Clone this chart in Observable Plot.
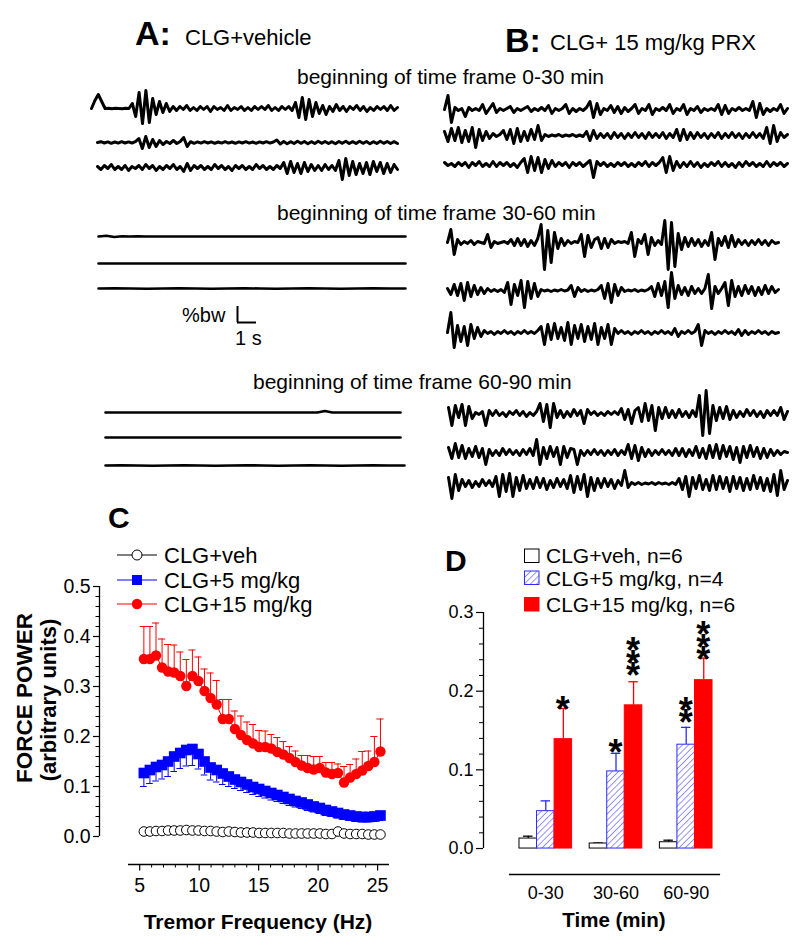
<!DOCTYPE html>
<html><head><meta charset="utf-8">
<script src="https://cdn.jsdelivr.net/npm/d3@7"></script>
<script src="https://cdn.jsdelivr.net/npm/@observablehq/plot@0.6"></script>
<style>
html,body{margin:0;padding:0;background:#fff;}
#root{position:relative;width:800px;height:947px;overflow:hidden;background:#fff;font-family:"Liberation Sans",Arial,Helvetica,sans-serif;}
</style></head><body><div id="root"></div>
<script>
// ---------------- DATA ----------------
// Panel A/B force traces (amplitude, arbitrary px-like units), one array per recording
const traceA0_1 = [0,8,14,7,0,0.3,-0.3,0.3,0,-0.3,0.3,0,5,-8,16,-15,18,-14,10,-6,7,-4,5,-3,2,-2,2,-1,3,-2,1,-2,2,-1,2,-3,2,-1,1,-2,3,-2,1,-1,2,-2,1,-2,2,-1,2,-1,3,-2,1,-2,2,-1,2,-2,6,-9,11,-11,9,-8,6,-5,3,-6,2,-3,4,-2,2,-3,2,-1,3,-2,2,-3,1,-2,2,-1,2,-2,3,-2,1];
const traceA0_2 = [0,0.8,-0.5,0.6,-0.8,0.5,-0.6,0.8,-0.5,0.6,-0.5,0.8,4,-6,6,-5,3,-4,2,-2,1,-1,2,-1,1,5,-4,0.8,-0.8,0.6,-0.6,0.8,-0.5,0.6,-0.8,0.5,-0.6,0.8,-0.6,0.5,-0.8,0.6,-0.5,0.8,-0.6,0.5,-0.8,0.6,-0.5,0.8,-0.6,0.5,2.5,-1.5,1,-1.2,0.8,-1,1.2,-0.8,1,-1.2,0.8,-1,1.2,-0.8,1,-1,0.8,-1.2,1,-0.8,1.2,-1,0.8,-1,1.2,-0.8,1,-1.2,0.8,-1,1.2,-0.8,1,-1,0.8,-1];
const traceA0_3 = [1,-2,2,-1,3,-2,1,-2,2,-3,1,-1,2,-2,3,-1,2,-3,1,-2,2,-1,3,-2,1,-4,4,-3,2,-1,2,-2,1,-2,3,-1,2,-2,1,-3,2,-1,2,-2,1,-2,3,-1,2,-2,1,-2,2,-1,5,-6,6,-5,4,-6,5,-4,3,-3,2,-3,3,-2,2,-3,7,-12,9,-8,6,-7,4,-6,5,-7,6,-4,5,-6,4,-5,3,-2];
const traceB0_1 = [0,14,-13,2,-1,1,-7,2,-1,1,-1,5,-4,1,6,-3,1,-1,1,3,-3,1,-1,1,3,-2,1,-1,2,-1,4,-4,1,-1,1,5,-4,1,-2,1,-1,2,8,-8,6,-5,1,-1,4,-3,3,-4,2,-2,1,5,-4,1,-1,5,-5,1,-1,2,-1,5,-4,1,-1,5,-5,1,-1,3,-3,1,-1,1,-1,5,-5,4,-4,1,-1,2,-1,1,-1,8,-8,6,-5,1,-2,1,-1,5,-4,1];
const traceB0_2 = [4,-6,7,-5,8,-7,5,-6,8,-12,6,-5,4,-3,2,-1,1,5,-4,6,-8,7,-6,4,-5,6,-4,10,-5,1,-1,0.5,-0.5,1,-1,0.5,-0.5,1,-1,0.5,-1,4,-5,5,-3,2,-2,2,-3,3,-2,2,-3,2,-2,3,-2,2,-3,3,-2,2,-2,3,-3,2,-2,6,-5,6,-4,3,-3,3,-2,2,-3,2,-2,3,-3,2,-2,3,-2,2,-3,2,-2,3,-2,2,-3,8,-8,10,-6,3,-2,1];
const traceB0_3 = [2,-1,1,-2,2,-1,2,-3,2,-1,3,-2,1,-2,3,-2,2,-1,2,-2,1,-3,2,6,-8,8,-6,7,-8,5,-4,4,-2,2,-1,2,-3,2,-1,2,-2,1,4,-13,3,-1,2,-2,1,-2,2,-1,2,-2,1,-2,2,-1,3,-2,2,-1,2,7,-8,8,-6,3,-3,2,-2,3,-2,2,-3,1,-2,2,-1,3,-2,2,-2,1,-3,2,-2,3,-1,2,-2,1,-2,3,-2,2,-1,2,-2,1];
const traceA30_1 = [0,0.7,-0.5,0.2,0,0.1,0,0,0,0,0,0,0,0,0,0,0,0,0,0,0,0,0,0,0,0,0,0,0,0,0,0,0,0,0,0,0,0,0,0];
const traceA30_2 = [0,0,0,0,0,0,0,0,0,0,0,0,0,0,0,0,0,0,0,0];
const traceA30_3 = [0,0.2,0,-0.2,0,0.2,0,-0.2,0,0.2,0,-0.2,0,0.2,0,-0.2,0,0.2,0,0];
const traceB30_1 = [0,13,-12,3,-2,1,-1,2,-2,1,0,-1,8,-5,1,-1,0,1,-1,3,-3,4,-3,3,-4,2,-3,4,18,-27,12,-20,10,-6,4,-3,2,-1,1,0,8,-14,7,-5,3,5,-6,4,-5,3,-1,1,0,1,-1,10,-14,3,-1,8,-12,5,-3,2,-2,22,-27,20,-24,9,-7,5,-4,4,-3,3,-4,2,-3,10,-17,4,-3,6,-5,7,-4,3,-2,2,-3,2,-2,3,-2,2,-3,2,-1,0];
const traceB30_2 = [2,-4,6,-5,7,-10,8,-6,5,-4,3,-3,2,-1,1,-1,1,-2,8,-14,6,-5,10,-17,9,-8,7,-6,1,-0.5,0.5,-1,0.5,-0.5,1,-0.5,0.5,5,-6,3,-1,1,-1,0.5,-0.5,1,5,-8,7,-12,6,-5,3,-1,0.5,-0.5,1,-1,0.5,-0.5,1,4,-6,7,-5,9,-17,18,-8,5,-4,3,-5,4,-3,2,-3,2,16,-18,4,-3,2,8,-15,10,-6,4,-5,5,-3,4,-5,3,-4,5,-3,4,-2,1];
const traceB30_3 = [0,20,-15,7,-9,6,-13,8,-6,5,-4,2,-1,1,-2,1,-1,2,-1,1,-2,1,-1,2,-1,1,-1,2,6,-12,8,-7,9,-6,5,-8,10,-12,7,-6,8,-9,6,-7,9,-12,5,-6,8,-12,4,-1,2,-1,1,-2,1,-1,2,-1,1,-2,1,-1,2,-1,1,-2,4,-4,1,-1,2,-1,1,8,-13,2,-1,1,-2,1,-1,2,-1,1,-2,3,-3,2,-2,1,-1,2,-1,1,-2,1,-1,0];
const traceA60_1 = [0,0,0,0,0,0,0,0,0,0,0,0,0,0,0,0,0,0,0,0,0,0,0,0,0,0,0,0,0,1.5,0,0,0,0,0,0,0,0,0,0];
const traceA60_2 = [0,0,0,0,0,0,0,0,0,0,0,0,0,0,0,0,0,0,0,0];
const traceA60_3 = [0,0.2,0,-0.2,0,0.2,0,-0.2,0,0.2,0,-0.2,0,0.2,0,-0.2,0,0.2,0,0];
const traceB60_1 = [6,-12,8,-4,9,-12,7,-5,1,-1,2,-12,3,-2,3,-2,1,-3,2,-1,3,-2,2,-3,1,-2,2,10,-8,9,-14,10,-4,3,-4,2,-3,4,-2,3,-10,4,-1,2,-2,1,-2,2,-1,2,-1,5,-6,4,-10,3,6,-8,10,-7,8,-17,6,-5,6,-4,3,-4,4,-3,2,-4,3,-3,18,-22,23,-20,8,-7,6,-5,7,-6,3,-4,2,-3,4,-2,3,-3,2,-4,3,-2,3,-2,6,-6,2];
const traceB60_2 = [5,-6,9,-5,7,-6,4,-4,6,-5,4,-12,3,-3,2,-3,4,-2,3,-2,2,-3,3,-2,4,-3,13,-12,5,-6,6,-4,5,-12,6,-5,4,3,-12,2,-3,2,-2,3,-2,2,-3,2,-2,3,-3,2,-2,8,-6,7,-8,5,-4,3,-3,2,-2,3,-2,2,-3,4,-3,4,-4,3,-3,6,-5,4,-6,7,-5,8,-6,7,-4,6,-7,5,-10,6,-5,7,-4,5,-6,4,-5,3,-3,2,-2,1,0];
const traceB60_3 = [6,-15,9,-7,4,-3,3,-4,2,-3,4,-2,3,-3,7,-13,9,-8,10,-13,6,-7,8,-5,4,-5,6,-4,5,-6,3,-4,5,-3,4,-5,8,-9,7,-6,9,-13,6,-7,5,-4,5,-3,4,-5,3,-2,13,-4,1,-1,1,-1,0.5,-0.5,1,-1,1,-0.5,0.5,-1,1,-1,5,-6,7,-13,6,-5,8,-6,4,-7,8,-6,7,-5,6,-8,7,-5,6,-7,5,-6,8,-5,6,-7,5,-8,9,-12,13,-6,3];

// Panel C: force power spectra
const freqHz = [5.35,5.86,6.37,6.88,7.39,7.90,8.41,8.92,9.43,9.94,10.45,10.96,11.47,11.98,12.49,13.00,13.51,14.02,14.53,15.04,15.55,16.06,16.57,17.08,17.59,18.10,18.61,19.12,19.63,20.14,20.65,21.16,21.67,22.18,22.69,23.20,23.71,24.22,24.73,25.24];
const vehPower = [0.010,0.010,0.011,0.011,0.012,0.012,0.012,0.013,0.012,0.012,0.011,0.011,0.010,0.009,0.010,0.009,0.008,0.008,0.008,0.007,0.007,0.007,0.007,0.007,0.006,0.006,0.006,0.006,0.006,0.006,0.005,0.005,0.010,0.006,0.005,0.005,0.005,0.004,0.004,0.004];
const mg5Power = [0.127,0.133,0.139,0.143,0.150,0.160,0.167,0.173,0.175,0.165,0.150,0.138,0.133,0.126,0.120,0.114,0.109,0.104,0.099,0.095,0.091,0.087,0.083,0.079,0.075,0.071,0.068,0.064,0.060,0.057,0.053,0.050,0.047,0.044,0.042,0.040,0.039,0.039,0.040,0.042];
const mg5Lower = [0.100,0.106,0.111,0.115,0.120,0.130,0.136,0.141,0.142,0.135,0.123,0.113,0.109,0.104,0.100,0.096,0.092,0.088,0.084,0.080,0.077,0.073,0.070,0.066,0.062,0.059,0.056,0.052,0.049,0.046,0.042,0.040,0.037,0.034,0.032,0.030,0.029,0.029,0.030,0.032];
const mg15Power = [0.355,0.355,0.362,0.338,0.330,0.328,0.321,0.301,0.321,0.311,0.291,0.277,0.264,0.235,0.235,0.215,0.203,0.193,0.186,0.179,0.179,0.176,0.169,0.164,0.157,0.149,0.142,0.137,0.134,0.137,0.128,0.125,0.127,0.108,0.118,0.125,0.132,0.141,0.149,0.170];
const mg15Upper = [0.420,0.420,0.427,0.395,0.384,0.383,0.369,0.354,0.373,0.359,0.335,0.327,0.312,0.274,0.274,0.251,0.241,0.229,0.224,0.212,0.211,0.204,0.198,0.190,0.180,0.171,0.162,0.162,0.160,0.160,0.148,0.148,0.145,0.140,0.144,0.155,0.170,0.171,0.200,0.235];
const cYTicks = [0, 0.1, 0.2, 0.3, 0.4, 0.5];
const cYMinor = [0.02,0.04,0.06,0.08,0.12,0.14,0.16,0.18,0.22,0.24,0.26,0.28,0.32,0.34,0.36,0.38,0.42,0.44,0.46,0.48];
const cXTicks = [5, 10, 15, 20, 25];
const cXMinor = [6,7,8,9,11,12,13,14,16,17,18,19,21,22,23,24];
const cLegend = ["CLG+veh", "CLG+5 mg/kg", "CLG+15 mg/kg"];

// Panel D: mean force power per time frame
const timeFrames = ["0-30", "30-60", "60-90"];
const vehMean = [0.0127, 0.0064, 0.0080];
const vehSemTop = [0.0157, 0.0070, 0.0106];
const mg5Mean = [0.0475, 0.0980, 0.1320];
const mg5SemTop = [0.0606, 0.1210, 0.1540];
const mg15Mean = [0.1390, 0.1820, 0.2140];
const mg15SemTop = [0.1780, 0.2120, 0.2420];
const dYTicks = [0, 0.1, 0.2, 0.3];
const dYMinor = [0.02,0.04,0.06,0.08,0.12,0.14,0.16,0.18,0.22,0.24,0.26,0.28];
const dLegend = ["CLG+veh, n=6", "CLG+5 mg/kg, n=4", "CLG+15 mg/kg, n=6"];
// significance stars: [time frame index, series index (0 veh, 1 5mg, 2 15mg), lowest star centre value, number of stars]
const stars = [[0,2,0.186,1],[1,1,0.131,1],[1,2,0.229,3],[2,1,0.169,2],[2,2,0.249,3]];

// ---------------- RENDER ----------------
const FONT = '"Liberation Sans", Arial, Helvetica, sans-serif';
const BLUE = "#0000ff", RED = "#ff0000", DBLUE = "#2a2aff";
const NS = "http://www.w3.org/2000/svg";
const root = document.getElementById("root");

function place(el, left, top) {
  el.style.position = "absolute";
  el.style.left = left + "px";
  el.style.top = top + "px";
  el.style.background = "transparent";
  el.style.overflow = "visible";
  el.style.maxWidth = "none";
  root.appendChild(el);
}

// traces
function trace(values, left, baseline, width, sw = 3) {
  const h = 70;
  const p = Plot.plot({
    width, height: h, margin: 0,
    x: {domain: [0, values.length - 1], axis: null},
    y: {domain: [-h / 2, h / 2], axis: null},
    marks: [Plot.lineY(values, {stroke: "#000", strokeWidth: sw, strokeLinejoin: "round", strokeLinecap: "round"})]
  });
  place(p, left, baseline - h / 2);
}
trace(traceA0_1, 91, 107.7, 306);
trace(traceA0_2, 97, 141.7, 300);
trace(traceA0_3, 97, 166.7, 300);
trace(traceB0_1, 444, 109, 343);
trace(traceB0_2, 444, 135, 343);
trace(traceB0_3, 444, 164, 343);
trace(traceA30_1, 98, 236, 307, 2.6);
trace(traceA30_2, 98, 262.7, 307, 2.6);
trace(traceA30_3, 98, 288.3, 307, 2.6);
trace(traceB30_1, 447, 242, 331);
trace(traceB30_2, 447, 290.3, 331);
trace(traceB30_3, 447, 332, 331);
trace(traceA60_1, 105, 411.7, 295, 2.6);
trace(traceA60_2, 105, 437, 295, 2.6);
trace(traceA60_3, 105, 465, 299, 2.6);
trace(traceB60_1, 448, 413.3, 339);
trace(traceB60_2, 448, 451.7, 339);
trace(traceB60_3, 448, 483.3, 339);

// scale bar (1 s horizontal, %bw vertical)
const bar = Plot.plot({
  width: 19, height: 16, margin: 0,
  x: {domain: [0, 1], axis: null}, y: {domain: [0, 1], axis: null},
  marks: [
    Plot.ruleY([0], {x1: 0, x2: 1, stroke: "#000", strokeWidth: 2}),
    Plot.ruleX([0], {y1: 0, y2: 1, stroke: "#000", strokeWidth: 2})
  ]
});
place(bar, 237, 306);

// Panel C (data area + y axis)
const C_XDOM = [1.62, 26.0];
const cData = freqHz.map((f, i) => ({f, veh: vehPower[i], m5: mg5Power[i], m5lo: mg5Lower[i], m15: mg15Power[i], m15hi: mg15Upper[i]}));
const plotC = Plot.plot({
  width: 420, height: 270, marginLeft: 99, marginRight: 31, marginTop: 16, marginBottom: 4,
  x: {domain: C_XDOM, axis: null},
  y: {domain: [0, 0.5], axis: null},
  style: {fontFamily: FONT, fontSize: "19.5px", color: "#000", background: "transparent"},
  marks: [
    Plot.ruleX([C_XDOM[0]], {y1: 0, y2: 0.5, stroke: "#000", strokeWidth: 1.3}),
    Plot.axisY({ticks: cYTicks, tickSize: 6, tickPadding: 3, tickFormat: d3.format(".1f"), anchor: "left", label: null, strokeWidth: 1.2}),
    Plot.axisY({ticks: cYMinor, tickSize: 3.5, tickFormat: () => "", anchor: "left", label: null, strokeWidth: 1}),
    Plot.line(cData, {x: "f", y: "veh", stroke: "#000", strokeWidth: 1}),
    Plot.dot(cData, {x: "f", y: "veh", r: 4.8, fill: "#fff", stroke: "#000", strokeWidth: 1}),
    Plot.ruleX(cData, {x: "f", y1: "m5", y2: "m5lo", stroke: BLUE, strokeWidth: 1}),
    Plot.ruleY(cData, {y: "m5lo", x1: d => d.f - 0.28, x2: d => d.f + 0.28, stroke: BLUE, strokeWidth: 1}),
    Plot.line(cData, {x: "f", y: "m5", stroke: BLUE, strokeWidth: 1}),
    Plot.dot(cData, {x: "f", y: "m5", symbol: "square", r: 6, fill: BLUE, stroke: "none"}),
    Plot.ruleX(cData, {x: "f", y1: "m15", y2: "m15hi", stroke: RED, strokeWidth: 1}),
    Plot.ruleY(cData, {y: "m15hi", x1: d => d.f - 0.3, x2: d => d.f + 0.3, stroke: RED, strokeWidth: 1}),
    Plot.line(cData, {x: "f", y: "m15", stroke: RED, strokeWidth: 1}),
    Plot.dot(cData, {x: "f", y: "m15", r: 5.2, fill: RED, stroke: "none"})
  ]
});
place(plotC, 0, 570);

// Panel C offset x axis (own strip below the data area); y here is pixels below the axis line
const cAxis = Plot.plot({
  width: 420, height: 40, marginLeft: 99, marginRight: 31, marginTop: 0, marginBottom: 0,
  x: {domain: C_XDOM, axis: null},
  y: {domain: [40, 0], axis: null},
  style: {fontFamily: FONT, fontSize: "19.5px", color: "#000", background: "transparent"},
  marks: [
    Plot.ruleY([0], {x1: 4.06, x2: 26.0, stroke: "#000", strokeWidth: 1.3}),
    Plot.ruleX(cXTicks, {x: d => d, y1: 0, y2: 6.5, stroke: "#000", strokeWidth: 1.2}),
    Plot.ruleX(cXMinor, {x: d => d, y1: 0, y2: 3.5, stroke: "#000", strokeWidth: 1}),
    Plot.text(cXTicks, {x: d => d, y: 21, text: d => String(d), fill: "#000"})
  ]
});
place(cAxis, 0, 864);

// Panel D
const dBars = [];
timeFrames.forEach((t, g) => {
  dBars.push({g, s: 0, slot: g * 4, mean: vehMean[g], top: vehSemTop[g]});
  dBars.push({g, s: 1, slot: g * 4 + 1, mean: mg5Mean[g], top: mg5SemTop[g]});
  dBars.push({g, s: 2, slot: g * 4 + 2, mean: mg15Mean[g], top: mg15SemTop[g]});
});
const starData = stars.map(([g, s, y, n]) => ({slot: g * 4 + s, y, n}));
const seriesColor = ["#000", DBLUE, RED];
const D_YMIN = -0.033;
const plotD = Plot.plot({
  width: 380, height: 407, marginLeft: 63, marginRight: 79.2, marginTop: 72, marginBottom: 73,
  x: {domain: [-2.05, 11.5], axis: null},
  y: {domain: [D_YMIN, 0.3], axis: null},
  style: {fontFamily: FONT, fontSize: "18px", color: "#000", background: "transparent"},
  marks: [
    Plot.ruleX([-2.05], {y1: 0, y2: 0.3, stroke: "#000", strokeWidth: 1.3}),
    Plot.ruleY([D_YMIN], {x1: -0.57, x2: 11.46, stroke: "#000", strokeWidth: 1.3}),
    Plot.axisY({ticks: dYTicks, tickSize: 7, tickPadding: 3, tickFormat: d3.format(".1f"), anchor: "left", label: null, strokeWidth: 1.2}),
    Plot.axisY({ticks: dYMinor, tickSize: 4, tickFormat: () => "", anchor: "left", label: null, strokeWidth: 1}),
    Plot.text(timeFrames, {x: (d, i) => i * 4 + 1.5, y: D_YMIN, text: d => d, dy: 19, fill: "#000"}),
    Plot.ruleX(dBars, {x: d => d.slot + 0.5, y1: "mean", y2: "top", stroke: d => seriesColor[d.s], strokeWidth: 1.3}),
    Plot.ruleY(dBars, {y: "top", x1: d => d.slot + 0.23, x2: d => d.slot + 0.77, stroke: d => seriesColor[d.s], strokeWidth: 1.3}),
    Plot.rectY(dBars.filter(d => d.s === 0), {x1: "slot", x2: d => d.slot + 1, y1: 0, y2: "mean", fill: "#fff", stroke: "#000", strokeWidth: 1}),
    Plot.rectY(dBars.filter(d => d.s === 1), {x1: "slot", x2: d => d.slot + 1, y1: 0, y2: "mean", fill: "url(#hatchD)", stroke: DBLUE, strokeWidth: 1}),
    Plot.rectY(dBars.filter(d => d.s === 2), {x1: "slot", x2: d => d.slot + 1, y1: 0, y2: "mean", fill: RED, stroke: RED, strokeWidth: 1})
  ]
});
{
  const defs = document.createElementNS(NS, "defs");
  defs.innerHTML = `<pattern id="hatchD" patternUnits="userSpaceOnUse" width="4.4" height="4.4" patternTransform="rotate(45)"><rect width="4.4" height="4.4" fill="#fff"/><line x1="0" y1="0" x2="0" y2="4.4" stroke="${DBLUE}" stroke-width="1"/></pattern>`;
  plotD.insertBefore(defs, plotD.firstChild);
}
place(plotD, 420, 540);

// Overlay: titles, labels, legends
const ov = document.createElementNS(NS, "svg");
ov.setAttribute("width", 800); ov.setAttribute("height", 947);
ov.style.position = "absolute"; ov.style.left = "0px"; ov.style.top = "0px"; ov.style.pointerEvents = "none";
ov.style.fontFamily = FONT;
ov.innerHTML = `<defs><pattern id="hatchL" patternUnits="userSpaceOnUse" width="4.4" height="4.4" patternTransform="rotate(45)"><rect width="4.4" height="4.4" fill="#fff"/><line x1="0" y1="0" x2="0" y2="4.4" stroke="${DBLUE}" stroke-width="1"/></pattern></defs>`;
root.appendChild(ov);
function txt(str, x, y, o = {}) {
  const {size = 18, weight = "normal", anchor = "start", rotate = 0} = o;
  const t = document.createElementNS(NS, "text");
  t.textContent = str;
  t.setAttribute("transform", `translate(${x},${y})` + (rotate ? ` rotate(${rotate})` : ""));
  t.setAttribute("font-size", size);
  t.setAttribute("font-weight", weight);
  t.setAttribute("text-anchor", anchor);
  t.setAttribute("fill", "#000");
  ov.appendChild(t);
  return t;
}
function el(name, attrs) {
  const e = document.createElementNS(NS, name);
  for (const k in attrs) e.setAttribute(k, attrs[k]);
  ov.appendChild(e);
}
txt("A:", 135, 45, {size: 34, weight: "bold"});
txt("CLG+vehicle", 185, 45, {size: 22});
txt("B:", 505, 52, {size: 34, weight: "bold"});
txt("CLG+ 15 mg/kg PRX", 550, 50, {size: 22});
txt("beginning of time frame 0-30 min", 297, 84, {size: 21});
txt("beginning of time frame 30-60 min", 277, 220, {size: 21});
txt("beginning of time frame 60-90 min", 253, 389, {size: 21});
txt("%bw", 182, 322, {size: 20});
txt("1 s", 235, 345, {size: 20});
txt("C", 108, 528, {size: 30, weight: "bold"});
txt("D", 445, 571, {size: 30, weight: "bold"});
txt("FORCE POWER", 32, 698, {size: 22.5, weight: "bold", anchor: "middle", rotate: -90});
txt("(arbitrary units)", 56, 700, {size: 22, weight: "bold", anchor: "middle", rotate: -90});
txt("Tremor Frequency (Hz)", 258, 929, {size: 21, weight: "bold", anchor: "middle"});
txt("Time (min)", 614, 927, {size: 20.5, weight: "bold", anchor: "middle"});

// significance stars: one vertical text per stack, glyphs kept upright, placed with panel D's scales
{
  const sx = plotD.scale("x"), sy = plotD.scale("y");
  const SIZE = 36, STEP = 12.5, ADV = 0.389 * SIZE;
  starData.forEach(d => {
    const cx = 420 + sx.apply(d.slot + 0.5);
    const yc = 540 + sy.apply(d.y);
    const y0 = yc + 0.565 * SIZE - (d.n - 1) * STEP;
    const t = txt("*".repeat(d.n), cx - ADV / 2, y0, {size: SIZE, weight: "bold", rotate: 90});
    t.setAttribute("rotate", "-90");
    t.setAttribute("letter-spacing", (STEP - ADV).toFixed(2));
  });
}

// legend C
const cRows = [555, 580, 604], cBase = [563, 588, 612];
const cCol = ["#000", BLUE, RED];
cLegend.forEach((s, i) => {
  el("line", {x1: 117, x2: 157, y1: cRows[i], y2: cRows[i], stroke: cCol[i], "stroke-width": 1});
  if (i === 0) el("circle", {cx: 137, cy: cRows[i], r: 5, fill: "#fff", stroke: "#000", "stroke-width": 1});
  if (i === 1) el("rect", {x: 132, y: cRows[i] - 5, width: 10, height: 10, fill: BLUE});
  if (i === 2) el("circle", {cx: 137, cy: cRows[i], r: 5.2, fill: RED});
  txt(s, 164, cBase[i], {size: 22});
});
// legend D
const dTop = [549, 571, 597.5], dBase = [563, 586, 612];
dLegend.forEach((s, i) => {
  const fill = i === 0 ? "#fff" : i === 1 ? "url(#hatchL)" : RED;
  const stroke = i === 0 ? "#000" : i === 1 ? DBLUE : RED;
  el("rect", {x: 524.5, y: dTop[i], width: 14.5, height: 13.5, fill, stroke, "stroke-width": 1});
  txt(s, 546, dBase[i], {size: 21});
});
</script></body></html>
